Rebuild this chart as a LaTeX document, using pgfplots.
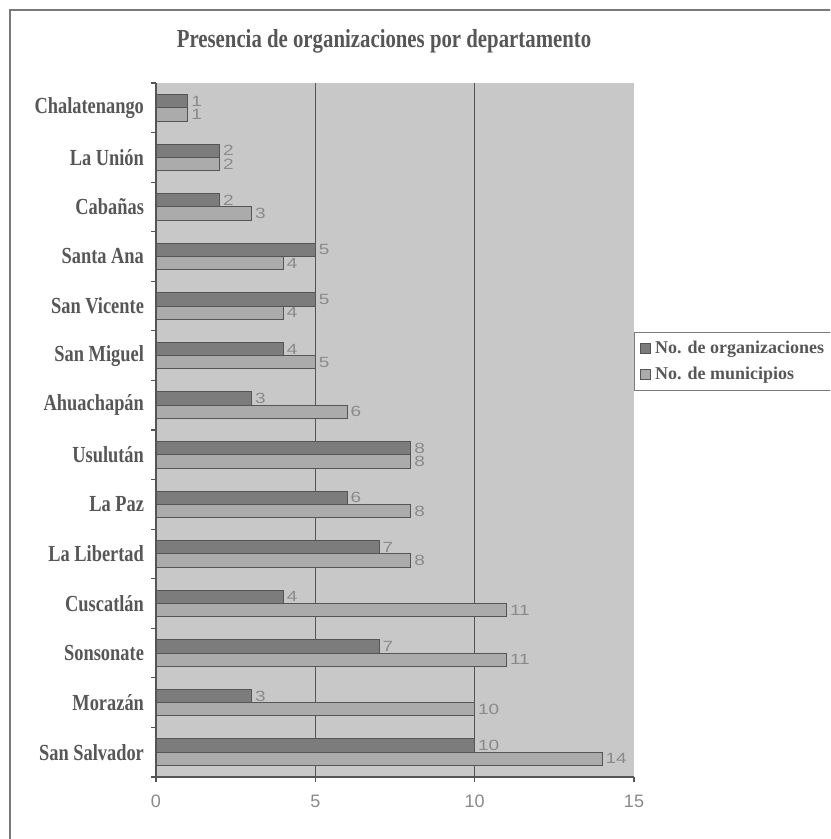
\documentclass[border=0pt]{standalone}
\usepackage{pgfplots}
\pgfplotsset{compat=1.18}
\usepackage{pgfplotstable}
\usepackage{fontspec}
\setmainfont{Liberation Serif}
\newfontfamily\condserif[FakeStretch=0.8]{Liberation Serif}
\newfontfamily\sansnum{Liberation Sans}
\definecolor{plotbg}{HTML}{C8C8C8}
\definecolor{darkbar}{HTML}{7C7C7C}
\definecolor{lightbar}{HTML}{ABABAB}
\definecolor{barline}{HTML}{555555}
\definecolor{labtext}{HTML}{575757}
\definecolor{numtext}{HTML}{8A8A8A}
\definecolor{framecol}{HTML}{7A7A7A}

\pgfplotstableread{
y org mun
0 10 14
1 3 10
2 7 11
3 4 11
4 7 8
5 6 8
6 8 8
7 3 6
8 4 5
9 5 4
10 5 4
11 2 3
12 2 2
13 1 1
}\datatab

\begin{document}
\begin{tikzpicture}
\useasboundingbox (0,0) rectangle (415pt,419.5pt);
\clip (0,0) rectangle (415pt,419.5pt);
\fill[white] (0,0) rectangle (415pt,419.5pt);
\draw[framecol, line width=0.8pt] (5pt,-20pt) rectangle (440pt,414.5pt);
\node[font=\condserif\bfseries\fontsize{13}{15}\selectfont, text=labtext] at (192pt,399pt) {Presencia de organizaciones por departamento};
\begin{axis}[
  at={(78pt,31pt)}, anchor=south west,
  scale only axis, width=239pt, height=347pt,
  xmin=0, xmax=15, ymin=-0.5, ymax=13.5,
  axis background/.style={fill=plotbg},
  axis x line*=bottom, axis y line*=left,
  axis line style={barline, line width=0.6pt},
  xtick={0,5,10,15},
  extra x ticks={5,10},
  extra x tick labels={},
  extra x tick style={grid=major, major tick length=0pt},
  grid style={barline, line width=0.6pt},
  xticklabel style={font=\sansnum\fontsize{9}{10}\selectfont, text=numtext, yshift=-3pt},
  /pgf/number format/assume math mode=true,
  ytick={0,...,13},
  yticklabels={San Salvador, Morazán, Sonsonate, Cuscatlán, La Libertad, La Paz, Usulután, Ahuachapán, San Miguel, San Vicente, Santa Ana, Cabañas, La Unión, Chalatenango},
  yticklabel style={font=\condserif\bfseries\fontsize{11.5}{13}\selectfont, text=labtext},
  minor ytick={-0.5,0.5,...,13.5},
  major tick length=2.5pt, minor tick length=2.5pt,
  tick align=outside,
  tick style={barline, line width=0.6pt},
  major y tick style={draw=none},
  xbar, bar width=6.65pt,
  nodes near coords={\scalebox{1}[0.78]{\pgfmathprintnumber{\pgfplotspointmeta}}},
  nodes near coords style={font=\sansnum\fontsize{9.5}{10}\selectfont, text=numtext, anchor=west, inner xsep=1.5pt, inner ysep=0pt},
  legend style={at={(1,0.641)}, anchor=north west, draw=framecol, fill=white,
    font=\bfseries\fontsize{9}{11}\selectfont, text=labtext,
    legend cell align=left, inner xsep=3pt, inner ysep=2pt, row sep=1.5pt},
  legend image code/.code={\draw[#1, draw=barline, line width=0.4pt] (0pt,-2.5pt) rectangle (5pt,2.5pt);},
]
\addplot[fill=darkbar, draw=barline, line width=0.5pt, bar shift=3.33pt] table[x=org, y=y] {\datatab};
\addplot[fill=lightbar, draw=barline, line width=0.5pt, bar shift=-3.33pt] table[x=mun, y=y] {\datatab};
\legend{No. de organizaciones, No. de municipios}
\end{axis}
\end{tikzpicture}
\end{document}
